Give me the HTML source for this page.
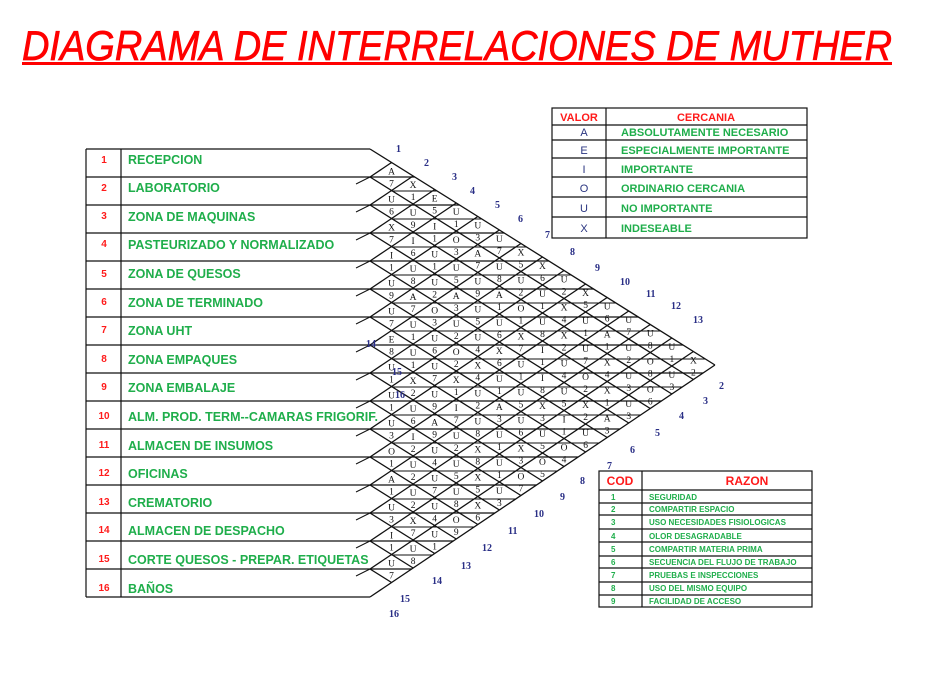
<!DOCTYPE html>
<html><head><meta charset="utf-8"><style>
html,body{margin:0;padding:0;background:#fff;}
svg{display:block;}
.g{fill:#1fae4b;font-family:"Liberation Sans",sans-serif;font-weight:bold;}
.r{fill:#ff1a1a;font-family:"Liberation Sans",sans-serif;font-weight:bold;}
.b{fill:#2a2f86;font-family:"Liberation Serif",serif;font-weight:bold;font-size:10px;}
.c{fill:#111;font-family:"Liberation Serif",serif;font-size:9.5px;}
</style></head><body>
<svg id="s" width="929" height="696" viewBox="0 0 929 696" xmlns="http://www.w3.org/2000/svg">
<rect width="929" height="696" fill="#fff"/>
<text x="22" y="60" fill="#ff0000" stroke="#ff0000" stroke-width="0.7" font-family="Liberation Sans,sans-serif" font-style="italic" font-size="42" textLength="870" lengthAdjust="spacingAndGlyphs">DIAGRAMA DE INTERRELACIONES DE MUTHER</text>
<rect x="22" y="62" width="870" height="3" fill="#ff0000"/>

<g id="grid" stroke="#111" stroke-width="1.3" fill="none"></g>
<g id="cells"></g>

<g stroke="#111" stroke-width="1.2" fill="none">
<line x1="86" y1="149" x2="86" y2="597"/>
<line x1="121" y1="149" x2="121" y2="597"/>
</g>
<g class="r" font-size="10" text-anchor="middle">
<text x="104" y="163">1</text><text x="104" y="191">2</text><text x="104" y="219">3</text><text x="104" y="247">4</text>
<text x="104" y="277">5</text><text x="104" y="305">6</text><text x="104" y="333">7</text><text x="104" y="362">8</text>
<text x="104" y="390">9</text><text x="104" y="419">10</text><text x="104" y="448">11</text><text x="104" y="476">12</text>
<text x="104" y="505">13</text><text x="104" y="533">14</text><text x="104" y="562">15</text><text x="104" y="591">16</text>
</g>
<g class="g" font-size="12.5" font-weight="normal">
<text x="128" y="164">RECEPCION</text>
<text x="128" y="192">LABORATORIO</text>
<text x="128" y="221">ZONA DE MAQUINAS</text>
<text x="128" y="249">PASTEURIZADO Y NORMALIZADO</text>
<text x="128" y="278">ZONA DE QUESOS</text>
<text x="128" y="307">ZONA DE TERMINADO</text>
<text x="128" y="335">ZONA UHT</text>
<text x="128" y="364">ZONA EMPAQUES</text>
<text x="128" y="392">ZONA EMBALAJE</text>
<text x="128" y="421">ALM. PROD. TERM--CAMARAS FRIGORIF.</text>
<text x="128" y="450">ALMACEN DE INSUMOS</text>
<text x="128" y="478">OFICINAS</text>
<text x="128" y="507">CREMATORIO</text>
<text x="128" y="535">ALMACEN DE DESPACHO</text>
<text x="128" y="564">CORTE QUESOS - PREPAR. ETIQUETAS</text>
<text x="128" y="593">BAÑOS</text>
</g>

<g class="b">
<text x="396" y="152">1</text><text x="424" y="166">2</text><text x="452" y="180">3</text><text x="470" y="194">4</text>
<text x="495" y="208">5</text><text x="518" y="222">6</text><text x="545" y="238">7</text><text x="570" y="255">8</text>
<text x="595" y="271">9</text><text x="620" y="285">10</text><text x="646" y="297">11</text><text x="671" y="309">12</text>
<text x="693" y="323">13</text>
<text x="366" y="347">14</text><text x="392" y="375">15</text><text x="395" y="398">16</text>
<text x="719" y="389">2</text><text x="703" y="404">3</text><text x="679" y="419">4</text><text x="655" y="436">5</text>
<text x="630" y="453">6</text><text x="607" y="469">7</text><text x="580" y="484">8</text><text x="560" y="500">9</text>
<text x="534" y="517">10</text><text x="508" y="534">11</text><text x="482" y="551">12</text><text x="461" y="569">13</text>
<text x="432" y="584">14</text><text x="400" y="602">15</text><text x="389" y="617">16</text>
</g>

<g stroke="#111" stroke-width="1.2" fill="none">
<rect x="552" y="108" width="255" height="130"/>
<line x1="606" y1="108" x2="606" y2="238"/>
<line x1="552" y1="125" x2="807" y2="125"/>
<line x1="552" y1="140" x2="807" y2="140"/>
<line x1="552" y1="158" x2="807" y2="158"/>
<line x1="552" y1="177" x2="807" y2="177"/>
<line x1="552" y1="197" x2="807" y2="197"/>
<line x1="552" y1="217" x2="807" y2="217"/>
</g>
<g class="r" font-size="11" font-weight="normal" text-anchor="middle">
<text x="579" y="121">VALOR</text><text x="706" y="121">CERCANIA</text>
</g>
<g fill="#2a3580" font-family="Liberation Sans,sans-serif" font-size="11" text-anchor="middle">
<text x="584" y="136">A</text><text x="584" y="154">E</text><text x="584" y="173">I</text>
<text x="584" y="192">O</text><text x="584" y="212">U</text><text x="584" y="232">X</text>
</g>
<g class="g" font-size="11" font-weight="normal">
<text x="621" y="136">ABSOLUTAMENTE NECESARIO</text>
<text x="621" y="154">ESPECIALMENTE IMPORTANTE</text>
<text x="621" y="173">IMPORTANTE</text>
<text x="621" y="192">ORDINARIO CERCANIA</text>
<text x="621" y="212">NO IMPORTANTE</text>
<text x="621" y="232">INDESEABLE</text>
</g>

<g stroke="#111" stroke-width="1.2" fill="none">
<rect x="599" y="471" width="213" height="136"/>
<line x1="642" y1="471" x2="642" y2="607"/>
<line x1="599" y1="490" x2="812" y2="490"/>
<line x1="599" y1="503" x2="812" y2="503"/>
<line x1="599" y1="515" x2="812" y2="515"/>
<line x1="599" y1="529" x2="812" y2="529"/>
<line x1="599" y1="542" x2="812" y2="542"/>
<line x1="599" y1="556" x2="812" y2="556"/>
<line x1="599" y1="568" x2="812" y2="568"/>
<line x1="599" y1="582" x2="812" y2="582"/>
<line x1="599" y1="595" x2="812" y2="595"/>
</g>
<g class="r" font-size="12" text-anchor="middle">
<text x="620" y="485">COD</text><text x="747" y="485">RAZON</text>
</g>
<g class="g" font-size="8">
<text x="611" y="500">1</text><text x="611" y="512">2</text><text x="611" y="525">3</text><text x="611" y="539">4</text>
<text x="611" y="552">5</text><text x="611" y="565">6</text><text x="611" y="578">7</text><text x="611" y="591">8</text><text x="611" y="604">9</text>
<text x="649" y="500">SEGURIDAD</text>
<text x="649" y="512">COMPARTIR ESPACIO</text>
<text x="649" y="525">USO NECESIDADES FISIOLOGICAS</text>
<text x="649" y="539">OLOR DESAGRADABLE</text>
<text x="649" y="552">COMPARTIR MATERIA PRIMA</text>
<text x="649" y="565">SECUENCIA DEL FLUJO DE TRABAJO</text>
<text x="649" y="578">PRUEBAS E INSPECCIONES</text>
<text x="649" y="591">USO DEL MISMO EQUIPO</text>
<text x="649" y="604">FACILIDAD DE ACCESO</text>
</g>
</svg>
<script>
(function(){
var NS="http://www.w3.org/2000/svg";
var g=document.getElementById("grid"),c=document.getElementById("cells");
var dx=21.56,du=13.5,dd=14.5;
function P(n,m){var t=(28*(m-n))/(du+dd); return [370+t*dx,149+28*n+du*t];}
function L(a,b,w){var l=document.createElementNS(NS,"line");l.setAttribute("x1",a[0]);l.setAttribute("y1",a[1]);l.setAttribute("x2",b[0]);l.setAttribute("y2",b[1]);if(w)l.setAttribute("stroke-width",w);g.appendChild(l);}
function xEnd(y){var t=Math.min((y-149)/du,(597-y)/dd);return 370+t*dx;}
for(var n=0;n<=16;n++){
 L(P(n,n),P(n,16));
 L(P(n,n),P(0,n));
 var y=149+28*n;
 L([86,y],[xEnd(y),y], 1.2);
 if(n<16){var ym=y+14;var xs=370+14/(du+dd)*2*dx*0.5+10;var xe=xEnd(ym);if(xe>xs)L([xs,ym],[xe,ym],1);}
 if(n>0&&n<16){L([370,y],[356,y+7],1);}
}
var letters="AXEUUUXXUXUUUUXUUIOAUUUXUAUOUXIUUUAOUXUXUOIUUAUUXIUOXUUAOUUXUIUXAUUUOXUUXIUEUUXUAUUOUXUIUUXOUUAUXUOUIUUXUOUUUXAUUOUXUIUUX";
var digits="71513756256781269137821411283761591182743618235671421397324618523716241531681712365412978135169281732455312786124937118";
var k=0;
for(var i=1;i<=16;i++)for(var j=i+1;j<=16;j++){
 var a=P(i-1,j-1),b=P(i,j-1),d=P(i-1,j),e=P(i,j);
 var cx=(a[0]+b[0]+d[0]+e[0])/4,cy=(a[1]+b[1]+d[1]+e[1])/4;
 var t1=document.createElementNS(NS,"text");t1.setAttribute("class","c");t1.setAttribute("x",cx);t1.setAttribute("y",cy-2);t1.setAttribute("text-anchor","middle");t1.textContent=letters[k%letters.length];c.appendChild(t1);
 var t2=document.createElementNS(NS,"text");t2.setAttribute("class","c");t2.setAttribute("x",cx);t2.setAttribute("y",cy+10);t2.setAttribute("text-anchor","middle");t2.textContent=digits[k%digits.length];c.appendChild(t2);
 k++;
}
})();
</script>
</body></html>
